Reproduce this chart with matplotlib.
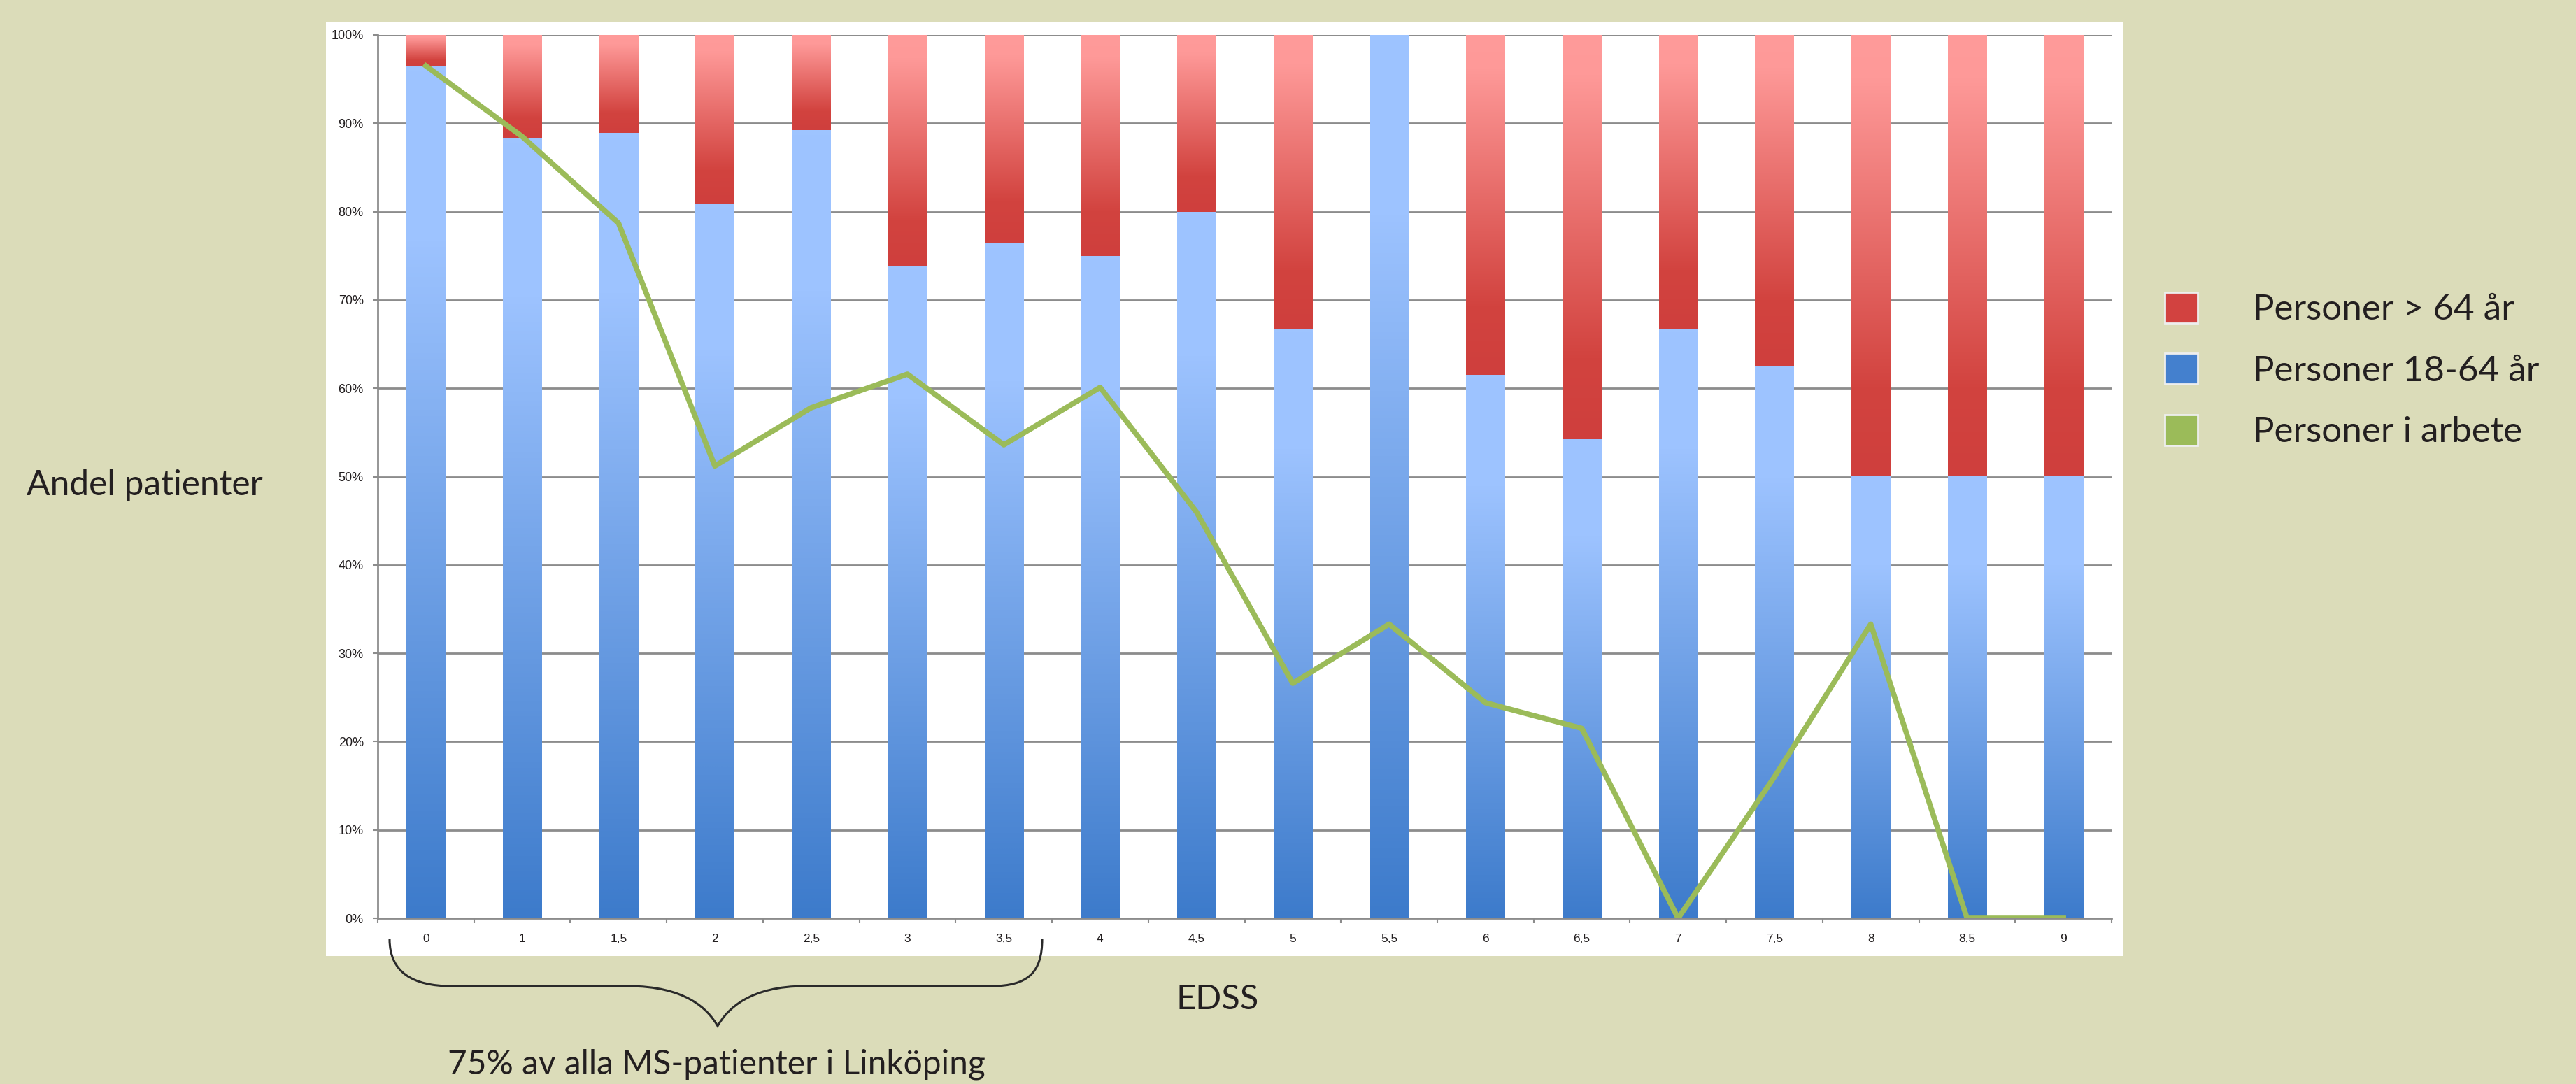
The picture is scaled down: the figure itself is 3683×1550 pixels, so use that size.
import matplotlib as mpl
mpl.use('Agg')

import numpy as np
import matplotlib.pyplot as plt
from matplotlib.colors import LinearSegmentedColormap
from matplotlib.patches import Patch, Rectangle, PathPatch
from matplotlib.path import Path

# data (percent of patients per EDSS step)
edss = ['0', '1', '1,5', '2', '2,5', '3', '3,5', '4', '4,5', '5',
        '5,5', '6', '6,5', '7', '7,5', '8', '8,5', '9']
andel_18_64 = [96.4, 88.3, 88.9, 80.8, 89.2, 73.8, 76.4, 75.0, 80.0, 66.7,
               100.0, 61.5, 54.2, 66.7, 62.5, 50.0, 50.0, 50.0]
andel_over_64 = [round(100 - v, 1) for v in andel_18_64]
andel_arbete = [96.5, 88.5, 78.7, 51.2, 57.8, 61.6, 53.6, 60.1, 46.0, 26.6,
                33.3, 24.4, 21.5, 0.0, 16.0, 33.3, 0.0, 0.0]
y_ticks = list(range(0, 101, 10))
legend_labels = ['Personer > 64 år', 'Personer 18-64 år', 'Personer i arbete']

W, H, DPI = 3683, 1550, 100
BG = '#DBDCB9'
GRID = '#8C8C8C'
INK = '#231F20'
TXT_FONT = 'Lato'
TICK_FONT = 'Liberation Sans'


def fx(px):
    return px / W


def fy(py):
    return 1 - py / H


fig = plt.figure(figsize=(W / DPI, H / DPI), dpi=DPI, facecolor=BG)
renderer = fig.canvas.get_renderer()


def fit_width(t, width_px):
    w = t.get_window_extent(renderer).width
    t.set_fontsize(t.get_fontsize() * width_px / w)


# white chart panel
fig.patches.append(Rectangle((fx(466), fy(1367)), fx(3035) - fx(466), fy(31) - fy(1367),
                             transform=fig.transFigure, facecolor='white',
                             edgecolor='none', zorder=-1))

ax = fig.add_axes([fx(540), fy(1313), fx(3019) - fx(540), fy(50) - fy(1313)])
ax.set_facecolor('white')

x = np.arange(len(edss))
bw = 0.40
blue = ax.bar(x, andel_18_64, width=bw, color='none', edgecolor='none', zorder=3)
red = ax.bar(x, andel_over_64, bottom=andel_18_64, width=bw, color='none',
             edgecolor='none', zorder=3)

# excel style gradient fills, one gradient per segment
blue_cmap = LinearSegmentedColormap.from_list(
    'blue', [(0, '#3D7BCB'), (0.8, '#9DC3FF'), (1, '#9EC4FF')])
red_cmap = LinearSegmentedColormap.from_list(
    'red', [(0, '#CF3F3D'), (0.2, '#D2433F'), (0.9, '#FE9998'), (1, '#FF9B9A')])
grad = np.linspace(0, 1, 256).reshape(-1, 1)
for bars, cmap in ((blue, blue_cmap), (red, red_cmap)):
    for b in bars:
        if b.get_height() <= 0:
            continue
        ax.imshow(grad, cmap=cmap, origin='lower', aspect='auto', interpolation='bilinear',
                  extent=[b.get_x(), b.get_x() + b.get_width(),
                          b.get_y(), b.get_y() + b.get_height()], zorder=2)

ax.plot(x, andel_arbete, color='#9BBB59', lw=5.5, zorder=4, solid_joinstyle='round')

ax.set_xlim(-0.5, len(edss) - 0.5)
ax.set_ylim(0, 100)

ax.set_axisbelow(True)
ax.yaxis.grid(True, color=GRID, lw=2)
for s in ('top', 'right'):
    ax.spines[s].set_visible(False)
for s in ('left', 'bottom'):
    ax.spines[s].set_color(GRID)
    ax.spines[s].set_linewidth(2)

ax.set_xticks(x)
ax.set_xticklabels(edss, family=TICK_FONT, fontsize=12.5, color=INK)
ax.set_xticks(np.arange(-0.5, len(edss)), minor=True)
ax.tick_params(axis='x', which='major', length=0, pad=16)
ax.tick_params(axis='x', which='minor', length=5, width=1.5, color=GRID)
ax.set_yticks(y_ticks)
ax.set_yticklabels(['{}%'.format(v) for v in y_ticks], family=TICK_FONT,
                   fontsize=13, color=INK)
ax.tick_params(axis='y', length=4.5, width=1.5, color=GRID, pad=10)

# surrounding texts
t1 = fig.text(fx(207), fy(694), 'Andel patienter', ha='center', va='center',
              family=TXT_FONT, fontsize=36, color=INK)
fit_width(t1, 338)
t2 = fig.text(fx(1741), fy(1429), 'EDSS', ha='center', va='center',
              family=TXT_FONT, fontsize=36, color=INK)
fit_width(t2, 118)
t3 = fig.text(fx(1024), fy(1522), '75% av alla MS-patienter i Linköping', ha='center',
              va='center', family=TXT_FONT, fontsize=36, color=INK)
fit_width(t3, 769)

# brace under the first seven EDSS steps
brace_px = [(557, 1343), (557, 1390), (590, 1410), (645, 1410),
            (897, 1410),
            (981, 1410), (1012, 1443), (1026, 1467),
            (1040, 1443), (1071, 1410), (1152, 1410),
            (1418, 1410),
            (1470, 1410), (1490, 1390), (1490, 1343)]
codes = [Path.MOVETO, Path.CURVE4, Path.CURVE4, Path.CURVE4,
         Path.LINETO,
         Path.CURVE4, Path.CURVE4, Path.CURVE4,
         Path.CURVE4, Path.CURVE4, Path.CURVE4,
         Path.LINETO,
         Path.CURVE4, Path.CURVE4, Path.CURVE4]
brace = Path([(fx(a), fy(b)) for a, b in brace_px], codes)
fig.patches.append(PathPatch(brace, transform=fig.transFigure, fill=False,
                             edgecolor='#2A2A2A', lw=2.2, zorder=5))

# legend
probe = fig.text(0, 0, legend_labels[1], family=TXT_FONT, fontsize=30)
fit_width(probe, 409)
leg_fs = probe.get_fontsize()
row_h = probe.get_window_extent(renderer).height
probe.remove()
fs_px = leg_fs * DPI / 72.0

handles = [Patch(facecolor=c, edgecolor='#EEEEEE', lw=2)
           for c in ('#D24240', '#4480CE', '#9BBB59')]
leg = fig.legend(handles, legend_labels, loc='upper left',
                 bbox_to_anchor=(fx(3095), fy(418)), frameon=False,
                 prop={'family': TXT_FONT, 'size': leg_fs},
                 handlelength=47 / fs_px, handleheight=48 / fs_px,
                 handletextpad=79 / fs_px, labelspacing=max(85 - row_h, 5) / fs_px,
                 borderpad=0, borderaxespad=0)
for t in leg.get_texts():
    t.set_color(INK)

fig.savefig('out.png', dpi=DPI, facecolor=BG)
